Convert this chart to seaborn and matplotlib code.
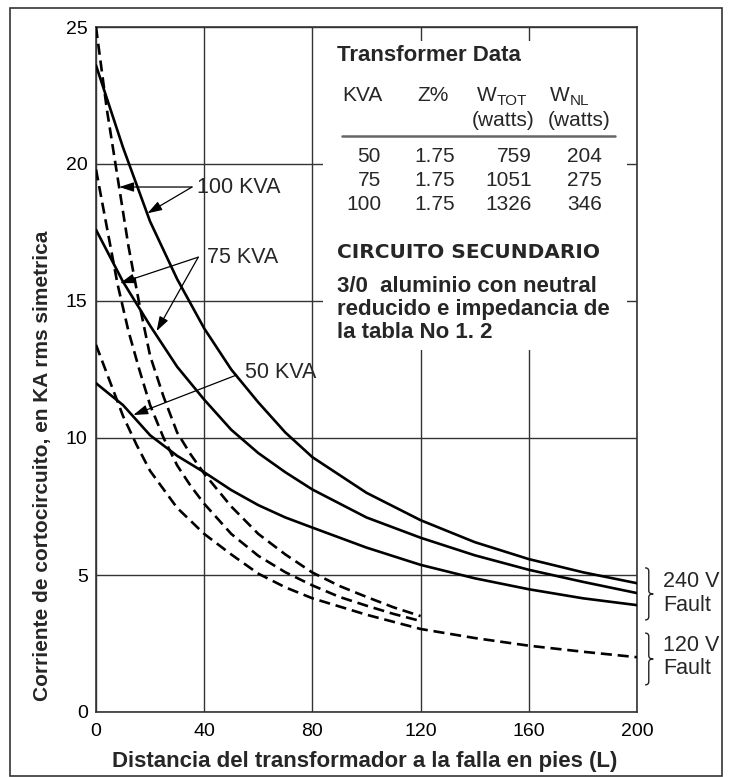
import matplotlib
matplotlib.use('Agg')
import matplotlib.pyplot as plt
import pandas as pd
import seaborn as sns
from matplotlib.patches import Rectangle, PathPatch
from matplotlib.path import Path


# distance from transformer to fault, feet (L)
L_240 = [0, 10, 20, 30, 40, 50, 60, 70, 80, 100, 120, 140, 160, 180, 200]
L_120 = [0, 4, 8, 12, 16, 20, 25, 30, 35, 40, 50, 60, 70, 80, 90, 100, 110, 120]
L_120_50 = [0, 5, 10, 15, 20, 30, 40, 50, 60, 70, 80, 100, 120, 140, 160, 180, 200]

# short circuit current, kA rms symmetrical -- 240 V fault (solid)
I240_100 = [23.6, 20.6, 17.9, 15.8, 14.0, 12.5, 11.3, 10.2, 9.3, 8.0, 7.0, 6.2, 5.58, 5.1, 4.7]
I240_75 = [17.6, 15.7, 14.1, 12.6, 11.4, 10.3, 9.45, 8.75, 8.12, 7.1, 6.36, 5.72, 5.19, 4.75, 4.34]
I240_50 = [12.0, 11.2, 10.1, 9.35, 8.75, 8.1, 7.55, 7.1, 6.73, 6.0, 5.37, 4.88, 4.48, 4.15, 3.9]

# 120 V fault (dashed)
I120_100 = [25.0, 22.0, 19.5, 17.0, 14.9, 13.0, 11.5, 10.2, 9.4, 8.7, 7.5, 6.5, 5.75,
            5.09, 4.6, 4.2, 3.82, 3.5]
I120_75 = [19.8, 17.7, 15.6, 13.9, 12.5, 11.2, 10.0, 9.0, 8.25, 7.6, 6.5, 5.7, 5.1,
           4.62, 4.2, 3.88, 3.58, 3.32]
I120_50 = [13.4, 12.1, 10.8, 9.75, 8.8, 7.45, 6.5, 5.75, 5.05, 4.55, 4.15, 3.55, 3.03,
           2.7, 2.42, 2.2, 2.0]

# transformer table
KVA = ['50', '75', '100']
Z_PCT = ['1.75', '1.75', '1.75']
W_TOT = ['759', '1051', '1326']
W_NL = ['204', '275', '346']

W, H = 732, 777


def series(x, y, kva, falla):
    return pd.DataFrame({'L': x, 'I': y, 'KVA': kva, 'Falla': falla})


def px(x, y):
    # figure pixel -> figure fraction
    return x / W, 1 - y / H


def brace(ax, x0, y0, y1, w=3.0, c=0.12):
    ym = (y0 + y1) / 2
    xm = x0 + w * 0.45
    xt = x0 + w
    verts = [(x0, y1), (xm, y1), (xm, y1 - c), (xm, ym + c),
             (xm, ym), (xt, ym), (xm, ym), (xm, ym - c),
             (xm, y0 + c), (xm, y0), (x0, y0)]
    codes = [Path.MOVETO, Path.CURVE3, Path.CURVE3, Path.LINETO,
             Path.CURVE3, Path.CURVE3, Path.CURVE3, Path.CURVE3,
             Path.LINETO, Path.CURVE3, Path.CURVE3]
    ax.add_patch(PathPatch(Path(verts, codes), fill=False, lw=1.0,
                           color='#222', clip_on=False))


def main():
    sns.set_theme(style='white')
    plt.rcParams['font.family'] = ['Liberation Sans', 'DejaVu Sans']

    data = pd.concat([
        series(L_240, I240_100, '100', '240 V'),
        series(L_240, I240_75, '75', '240 V'),
        series(L_240, I240_50, '50', '240 V'),
        series(L_120, I120_100, '100', '120 V'),
        series(L_120, I120_75, '75', '120 V'),
        series(L_120_50, I120_50, '50', '120 V'),
    ], ignore_index=True)

    fig = plt.figure(figsize=(W / 100, H / 100), dpi=100)
    ax = fig.add_axes([96 / W, 1 - 712 / H, (637 - 96) / W, (712 - 27) / H])

    sns.lineplot(
        data=data, x='L', y='I', hue='KVA', style='Falla',
        palette=['black'] * 3,
        dashes={'240 V': '', '120 V': (4.2, 2.2)},
        linewidth=1.9, estimator=None, legend=False, ax=ax, zorder=3
    )

    ax.set_xlim(0, 200)
    ax.set_ylim(0, 25)
    ax.set_xticks([0, 40, 80, 120, 160, 200])
    ax.set_yticks([0, 5, 10, 15, 20, 25])
    ax.set_xlabel('')
    ax.set_ylabel('')
    ax.grid(True, color='#333333', lw=1.0)
    ax.set_axisbelow(True)
    for s in ax.spines.values():
        s.set_color('#333333')
        s.set_linewidth(1.2)
    ax.tick_params(length=0, labelsize=14, colors='black')
    ax.tick_params(axis='y', pad=6)
    ax.tick_params(axis='x', pad=8)

    # white panel behind the table
    ax.add_patch(Rectangle((84, 13.2), 112.3, 11.3, facecolor='white',
                           edgecolor='none', zorder=1))

    # kva call-outs
    arrow = dict(arrowstyle='-|>,head_length=0.55,head_width=0.18',
                 color='black', lw=0.9, shrinkA=0, shrinkB=0,
                 mutation_scale=16)
    for tip in [(8.6, 19.16), (19.0, 18.2)]:
        ax.annotate('', xy=tip, xytext=(35.5, 19.16), arrowprops=arrow)
    ax.text(37.3, 19.16, '100 KVA', fontsize=15.5, va='center')
    for tip in [(8.9, 15.65), (22.4, 13.9)]:
        ax.annotate('', xy=tip, xytext=(37.8, 16.6), arrowprops=arrow)
    ax.text(41.0, 16.6, '75 KVA', fontsize=15.5, va='center')
    ax.annotate('', xy=(13.8, 10.84), xytext=(52, 12.3), arrowprops=arrow)
    ax.text(55.0, 12.4, '50 KVA', fontsize=15.5, va='center')

    # fault braces
    brace(ax, 203.0, 3.36, 5.26)
    brace(ax, 203.0, 0.99, 2.88)
    for y, s in [(4.76, '240 V'), (3.9, 'Fault'), (2.43, '120 V'), (1.59, 'Fault')]:
        ax.text(209.6, y, s, fontsize=15.5, va='center', clip_on=False)

    # table
    fig.text(*px(337, 61), 'Transformer Data', fontsize=16, weight='bold')
    fig.text(*px(342, 101), 'KVA', fontsize=15)
    fig.text(*px(417, 101), 'Z%', fontsize=15)
    fig.text(*px(477, 101), 'W', fontsize=15)
    fig.text(*px(497, 105), 'TOT', fontsize=11)
    fig.text(*px(550, 101), 'W', fontsize=15)
    fig.text(*px(570, 105), 'NL', fontsize=11)
    fig.text(*px(472, 126), '(watts)', fontsize=15)
    fig.text(*px(548, 126), '(watts)', fontsize=15)
    fig.add_artist(plt.Line2D([342 / W, 615 / W], [1 - 136 / H] * 2,
                              color='#666666', lw=1.8))
    for i, base in enumerate([162, 186, 210]):
        fig.text(*px(381, base), KVA[i], fontsize=15, ha='right')
        fig.text(*px(455, base), Z_PCT[i], fontsize=15, ha='right')
        fig.text(*px(532, base), W_TOT[i], fontsize=15, ha='right')
        fig.text(*px(602, base), W_NL[i], fontsize=15, ha='right')

    fig.text(*px(337, 258), 'CIRCUITO SECUNDARIO', fontsize=14.5,
             weight='heavy', family=['DejaVu Sans'])
    for base, s in [(292, '3/0  aluminio con neutral'),
                    (315, 'reducido e impedancia de'),
                    (338, 'la tabla No 1. 2')]:
        fig.text(*px(337, base), s, fontsize=16, weight='bold')

    # axis titles
    fig.text(*px(365, 761), 'Distancia del transformador a la falla en pies (L)',
             fontsize=16, weight='bold', ha='center', va='center')
    fig.text(*px(43, 466), 'Corriente de cortocircuito, en KA rms simetrica',
             fontsize=15, weight='bold', ha='center', va='center',
             rotation=90)

    # outer frame
    fig.patches.append(Rectangle((10 / W, 1 - 776 / H), 712 / W, 768 / H,
                                 transform=fig.transFigure, fill=False,
                                 edgecolor='#333333', lw=1.2))

    fig.savefig('out.png', dpi=100)


if __name__ == '__main__':
    main()
